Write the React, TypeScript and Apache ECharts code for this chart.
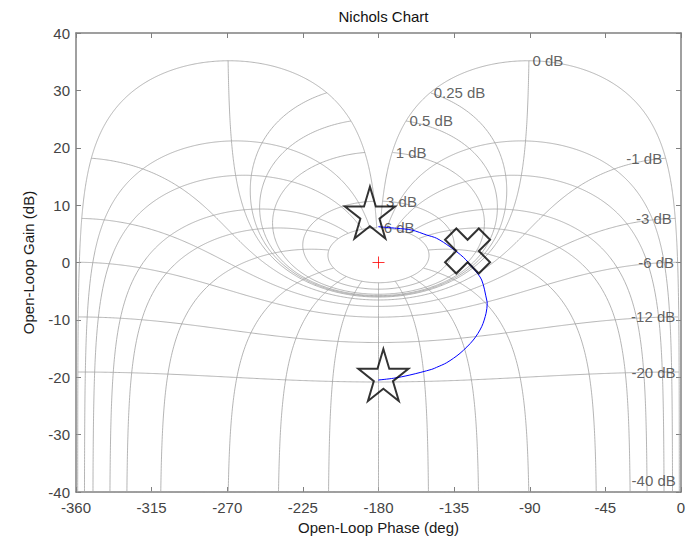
import React, { useEffect, useRef } from 'react';
import * as echarts from 'echarts';

// Axis ticks
const PHASE_TICKS = [-360, -315, -270, -225, -180, -135, -90, -45, 0];
const GAIN_TICKS = [-40, -30, -20, -10, 0, 10, 20, 30, 40];

// Nichols grid: closed-loop gain contours (dB) and closed-loop phase contours (deg)
const CL_GAINS_DB = [6, 3, 1, 0.5, 0.25, 0, -1, -3, -6, -12, -20, -40];
const CL_PHASES_DEG = [1, 5, 10, 20, 30, 50, 90, 120, 150, 180];

// Open-loop frequency response
const RESPONSE_PHASE = [
  -180.1, -169.2, -160.2, -151.3, -145.4, -137.5, -129.5, -123.6, -118.6, -115.6,
  -115.3, -116.0, -118.6, -123.6, -131.5, -139.4, -145.4, -148.3, -161.3, -171.2, -180.1,
];
const RESPONSE_GAIN = [
  6.24, 5.96, 5.66, 4.79, 4.22, 2.75, 0.91, -1.01, -3.05, -6.54,
  -7.11, -8.85, -11.19, -13.51, -15.83, -17.46, -18.27, -18.62, -19.61, -20.18, -20.48,
];

// Highlighted points [phase, gain]
const STAR_POINTS = [
  [-185.1, 8.7],
  [-177.1, -19.6],
];
const CROSS_POINTS = [[-127.0, 2.0]];
const CRITICAL_POINT = [[-180, 0]];

const FONT = '"Liberation Sans", Arial, Helvetica, sans-serif';
const GRID_COLOR = '#a2a2a2';
const AXIS_COLOR = '#808080';
const TEXT_SIZE = 15;

const STAR_PATH =
  'path://M50,0L61.23,34.55L97.55,34.55L68.17,55.9L79.39,90.45L50,69.1L20.61,90.45L31.83,55.9L2.45,34.55L38.77,34.55Z';
const CROSS_PATH =
  'path://M0,25L25,0L50,25L75,0L100,25L75,50L100,75L75,100L50,75L25,100L0,75L25,50Z';
const PLUS_PATH = 'path://M0,50L100,50M50,0L50,100';

// Open-loop point L = T / (1 - T) for closed-loop T = mag * e^(j*theta), theta in (0, 360)
function openLoop(mag: number, thetaDeg: number): [number, number] {
  const t = (thetaDeg * Math.PI) / 180;
  const re = 1 - mag * Math.cos(t);
  const im = -mag * Math.sin(t);
  const arg = (Math.atan2(im, re) * 180) / Math.PI;
  const phase = thetaDeg - arg - 360;
  const gain = 20 * Math.log10(mag / Math.hypot(re, im));
  return [phase, gain];
}

function gainContour(gDb: number): number[][] {
  const m = Math.pow(10, gDb / 20);
  const n = 720;
  const pts: number[][] = [];
  for (let i = 0; i <= n; i++) {
    const th = 180 - 179 * Math.cos((Math.PI * i) / n);
    pts.push(openLoop(m, th));
  }
  return pts;
}

function closedLoopDbSamples(): number[] {
  const out: number[] = [];
  for (let d = -80; d < -5; d += 0.5) out.push(d);
  for (let d = -5; d < -1; d += 0.02) out.push(d);
  for (let d = -1; d < 1; d += 0.002) out.push(d);
  for (let d = 1; d <= 6.0001; d += 0.02) out.push(d);
  return out;
}

function phaseContour(thetaDeg: number): number[][] {
  return closedLoopDbSamples().map((d) => openLoop(Math.pow(10, d / 20), thetaDeg));
}

function buildOption() {
  const gridSeries: any[] = [];
  CL_GAINS_DB.forEach((g) => {
    gridSeries.push({
      type: 'line',
      data: gainContour(g),
      showSymbol: false,
      silent: true,
      z: 1,
      lineStyle: { color: GRID_COLOR, width: 0.8 },
    });
  });
  const thetas: number[] = [];
  CL_PHASES_DEG.forEach((p) => {
    thetas.push(360 - p);
    if (p !== 180) thetas.push(p);
  });
  thetas.forEach((th) => {
    gridSeries.push({
      type: 'line',
      data: phaseContour(th),
      showSymbol: false,
      silent: true,
      z: 1,
      lineStyle: { color: GRID_COLOR, width: 0.8 },
    });
  });

  const labelData = CL_GAINS_DB.map((g) => {
    const [ph, gn] = openLoop(Math.pow(10, g / 20), 359);
    const pos = g >= 0 ? 'right' : 'left';
    return {
      value: [ph, g === -40 ? -38 : gn],
      label: { show: true, position: pos, distance: 3, formatter: `${g} dB` },
    };
  });

  const axisLineStyle = { color: AXIS_COLOR, width: 1.5 };
  const tickStyle = { inside: true, length: 5, lineStyle: { color: AXIS_COLOR, width: 1 } };

  return {
    animation: false,
    backgroundColor: '#ffffff',
    textStyle: { fontFamily: FONT },
    title: {
      text: 'Nichols Chart',
      left: 378.5,
      top: 4,
      textAlign: 'center',
      textStyle: { fontFamily: FONT, fontSize: TEXT_SIZE, fontWeight: 'normal', color: '#111111' },
    },
    grid: { left: 76, right: 6, top: 33, bottom: 52, outerBoundsMode: 'none' },
    xAxis: [
      {
        type: 'value',
        min: PHASE_TICKS[0],
        max: PHASE_TICKS[PHASE_TICKS.length - 1],
        interval: 45,
        position: 'bottom',
        axisLine: { show: true, onZero: false, lineStyle: axisLineStyle },
        axisTick: tickStyle,
        axisLabel: { fontFamily: FONT, fontSize: TEXT_SIZE, color: '#444444', margin: 8 },
        splitLine: { show: false },
        name: 'Open-Loop Phase (deg)',
        nameLocation: 'middle',
        nameGap: 23,
        nameTextStyle: { fontFamily: FONT, fontSize: TEXT_SIZE, color: '#1a1a1a' },
      },
      {
        type: 'value',
        min: PHASE_TICKS[0],
        max: PHASE_TICKS[PHASE_TICKS.length - 1],
        interval: 45,
        position: 'top',
        axisLine: { show: true, onZero: false, lineStyle: axisLineStyle },
        axisTick: tickStyle,
        axisLabel: { show: false },
        splitLine: { show: false },
      },
    ],
    yAxis: [
      {
        type: 'value',
        min: GAIN_TICKS[0],
        max: GAIN_TICKS[GAIN_TICKS.length - 1],
        interval: 10,
        position: 'left',
        axisLine: { show: true, onZero: false, lineStyle: axisLineStyle },
        axisTick: tickStyle,
        axisLabel: { fontFamily: FONT, fontSize: TEXT_SIZE, color: '#444444', margin: 6 },
        splitLine: { show: false },
        name: 'Open-Loop Gain (dB)',
        nameLocation: 'middle',
        nameGap: 40,
        nameTextStyle: { fontFamily: FONT, fontSize: TEXT_SIZE, color: '#1a1a1a' },
      },
      {
        type: 'value',
        min: GAIN_TICKS[0],
        max: GAIN_TICKS[GAIN_TICKS.length - 1],
        interval: 10,
        position: 'right',
        axisLine: { show: true, onZero: false, lineStyle: axisLineStyle },
        axisTick: tickStyle,
        axisLabel: { show: false },
        splitLine: { show: false },
      },
    ],
    series: [
      ...gridSeries,
      {
        type: 'scatter',
        data: labelData,
        symbol: 'circle',
        symbolSize: 1,
        silent: true,
        z: 3,
        itemStyle: { color: 'rgba(0,0,0,0)' },
        label: { fontFamily: FONT, fontSize: TEXT_SIZE, color: '#3a3a3a' },
      },
      {
        type: 'line',
        data: RESPONSE_PHASE.map((p, i) => [p, RESPONSE_GAIN[i]]),
        showSymbol: false,
        smooth: 0.3,
        z: 4,
        lineStyle: { color: '#0000ff', width: 1 },
      },
      {
        type: 'scatter',
        data: CRITICAL_POINT,
        symbol: PLUS_PATH,
        symbolSize: 12,
        z: 5,
        itemStyle: { color: 'none', borderColor: '#ff0000', borderWidth: 1 },
      },
      {
        type: 'scatter',
        data: STAR_POINTS,
        symbol: STAR_PATH,
        symbolSize: [50, 52],
        z: 6,
        itemStyle: { color: 'none', borderColor: '#000000', borderWidth: 2 },
      },
      {
        type: 'scatter',
        data: CROSS_POINTS,
        symbol: CROSS_PATH,
        symbolSize: [45, 45],
        z: 6,
        itemStyle: { color: 'none', borderColor: '#000000', borderWidth: 2 },
      },
    ],
  };
}

export default function App() {
  const ref = useRef<HTMLDivElement>(null);
  useEffect(() => {
    if (!ref.current) return;
    const chart = echarts.init(ref.current, undefined, { renderer: 'svg' });
    chart.setOption(buildOption() as any);
    return () => chart.dispose();
  }, []);
  return (
    <div
      ref={ref}
      style={{ position: 'fixed', left: 0, top: 0, width: 687, height: 544, background: '#fff' }}
    />
  );
}
